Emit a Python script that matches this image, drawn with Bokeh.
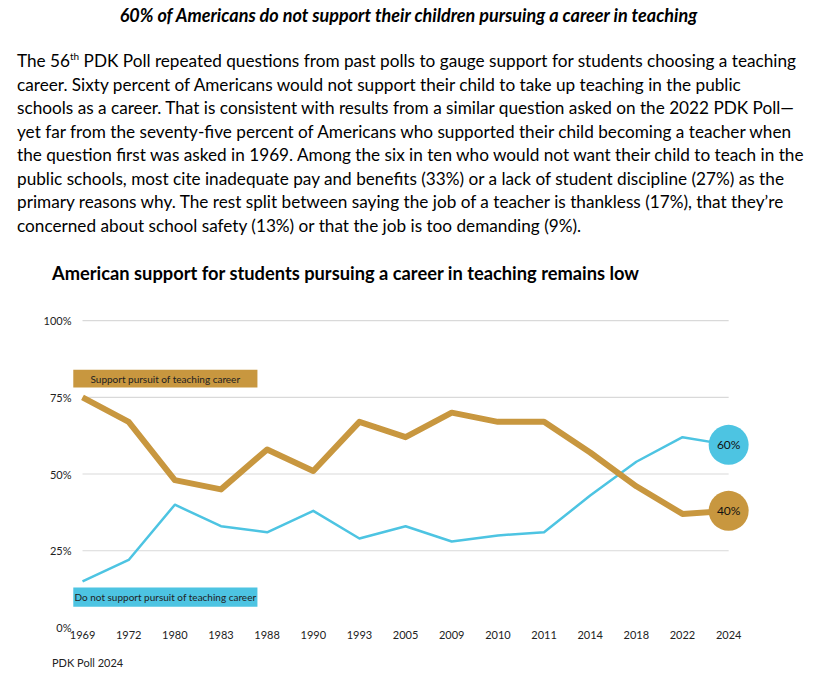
from bokeh.plotting import figure
from bokeh.models import Div, FixedTicker, Range1d, ColumnDataSource, Label, BoxAnnotation
from bokeh.layouts import column
from bokeh.embed import file_html
from bokeh.resources import INLINE

years = ["1969", "1972", "1980", "1983", "1988", "1990", "1993", "2005",
         "2009", "2010", "2011", "2014", "2018", "2022", "2024"]
support = [75, 67, 48, 45, 58, 51, 67, 62, 70, 67, 67, 57, 46, 37, 38]
not_support = [15, 22, 40, 33, 31, 38, 29, 33, 28, 30, 31, 43, 54, 62, 59.5]
y_ticks = [0, 25, 50, 75, 100]
y_tick_labels = ["0%", "25%", "50%", "75%", "100%"]
grid_values = [25, 50, 75, 100]
end_labels = ["40%", "60%"]

GOLD = "#C8973F"
BLUE = "#4DC4E2"
FONT = "Lato"
W = 801

heading = Div(
    text="60% of Americans do not support their children pursuing a career in teaching",
    width=W, height=41, margin=(0, 0, 0, 0),
    styles={"font-family": FONT, "font-size": "18px", "font-weight": "bold",
            "font-style": "italic", "line-height": "14px", "text-align": "center",
            "color": "#000", "white-space": "nowrap"})

lines = [
    "The 56<sup style='font-size:10px;line-height:0'>th</sup> PDK Poll repeated questions from past polls to gauge support for students choosing a teaching",
    "career. Sixty percent of Americans would not support their child to take up teaching in the public",
    "schools as a career. That is consistent with results from a similar question asked on the 2022 PDK Poll\u2014",
    "yet far from the seventy-five percent of Americans who supported their child becoming a teacher when",
    "the question first was asked in 1969. Among the six in ten who would not want their child to teach in the",
    "public schools, most cite inadequate pay and benefits (33%) or a lack of student discipline (27%) as the",
    "primary reasons why. The rest split between saying the job of a teacher is thankless (17%), that they\u2019re",
    "concerned about school safety (13%) or that the job is too demanding (9%).",
]
para = Div(
    text="<br>".join(lines),
    width=W, height=190, margin=(0, 0, 0, 0),
    styles={"font-family": FONT, "font-size": "17.2px", "line-height": "23.5px",
            "color": "#000", "white-space": "nowrap", "padding-left": "9px",
            "overflow": "visible"})

chart_title = Div(
    text="American support for students pursuing a career in teaching remains low",
    width=W, height=60, margin=(0, 0, 0, 0),
    styles={"font-family": FONT, "font-size": "18.3px", "font-weight": "bold",
            "line-height": "20px", "color": "#000", "white-space": "nowrap",
            "padding-left": "44px", "padding-top": "24px"})

x = list(range(len(years)))
src = ColumnDataSource(dict(x=x, support=support, not_support=not_support))

p = figure(frame_width=688, frame_height=322, output_backend="svg",
           toolbar_location=None, x_range=Range1d(-0.217, 14.69),
           y_range=Range1d(0, 104.9), min_border_left=64, min_border_right=41,
           min_border_top=6, min_border_bottom=24, margin=(0, 0, 0, 0))
p.outline_line_color = None
p.xgrid.visible = False
p.ygrid.visible = False
p.background_fill_color = "white"
p.border_fill_color = "white"

for ax in (p.xaxis[0], p.yaxis[0]):
    ax.axis_line_color = None
    ax.major_tick_line_color = None
    ax.minor_tick_line_color = None
    ax.major_tick_out = 0
    ax.major_tick_in = 0
    ax.minor_tick_out = 0
    ax.major_label_text_font = FONT
    ax.major_label_text_font_size = "11px"
    ax.major_label_text_color = "#222"
p.xaxis.ticker = FixedTicker(ticks=x)
p.xaxis.major_label_overrides = {i: y for i, y in enumerate(years)}
p.xaxis.major_label_standoff = 3
p.yaxis.ticker = FixedTicker(ticks=y_ticks)
p.yaxis.major_label_overrides = {t: l for t, l in zip(y_ticks, y_tick_labels)}
p.yaxis.major_label_standoff = 1

# grid lines spanning only the categories
p.segment(x0=[x[0]] * len(grid_values), x1=[x[-1]] * len(grid_values),
          y0=grid_values, y1=grid_values, line_color="#D9D9D9", line_width=1.2)

p.line("x", "not_support", source=src, line_color=BLUE, line_width=2.5,
       line_join="round")
p.line("x", "support", source=src, line_color=GOLD, line_width=6,
       line_join="round")

# end markers with labels
p.scatter([x[-1]], [not_support[-1]], size=40, fill_color=BLUE, line_color=None)
p.scatter([x[-1]], [support[-1]], size=40, fill_color=GOLD, line_color=None)
p.text([x[-1]], [support[-1]], text=[end_labels[0]], text_align="center",
       text_baseline="middle", text_font_size="12px", text_color="#111",
       text_font={"value": FONT})
p.text([x[-1]], [not_support[-1]], text=[end_labels[1]], text_align="center",
       text_baseline="middle", text_font_size="12px", text_color="#111",
       text_font={"value": FONT})

# legend boxes
p.add_layout(BoxAnnotation(left=-0.2, right=3.79, bottom=78.2, top=84.0,
                           fill_color=GOLD, fill_alpha=1, line_color=None))
p.add_layout(Label(x=1.795, y=81.1, text="Support pursuit of teaching career",
                   text_align="center", text_baseline="middle",
                   text_font=FONT, text_font_size="10px", text_color="#222"))
p.add_layout(BoxAnnotation(left=-0.2, right=3.79, bottom=6.8, top=13.0,
                           fill_color=BLUE, fill_alpha=1, line_color=None))
p.add_layout(Label(x=1.795, y=9.9, text="Do not support pursuit of teaching career",
                   text_align="center", text_baseline="middle",
                   text_font=FONT, text_font_size="10px", text_color="#222"))

source_div = Div(
    text="PDK Poll 2024", width=W, height=20, margin=(0, 0, 0, 0),
    styles={"font-family": FONT, "font-size": "11px", "line-height": "14px",
            "color": "#222", "padding-left": "44px", "padding-top": "5px"})

layout = column(heading, para, chart_title, p, source_div, spacing=0,
                margin=(8, 8, 0, 8))
open("out.html", "w").write(file_html(layout, INLINE))
